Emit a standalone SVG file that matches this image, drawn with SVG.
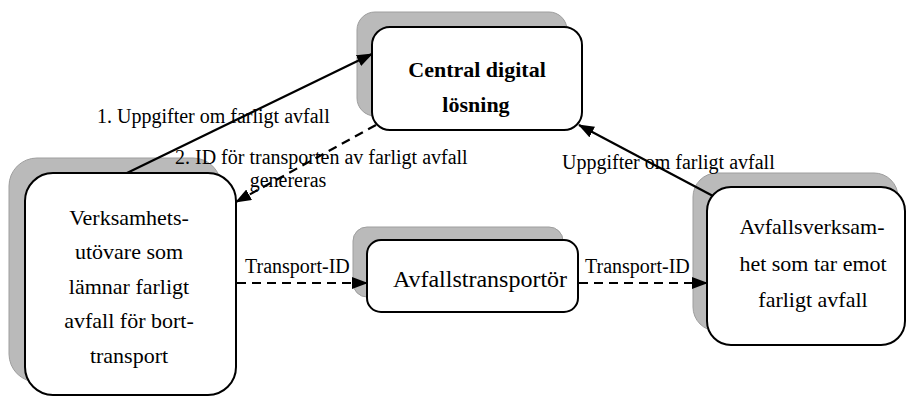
<svg xmlns="http://www.w3.org/2000/svg" width="908" height="401" viewBox="0 0 908 401">
  <defs>
    <marker id="arrow" viewBox="0 0 16 12" refX="15" refY="6" markerWidth="16" markerHeight="12" markerUnits="userSpaceOnUse" orient="auto">
      <path d="M0,0 L16,6 L0,12 Z" fill="#000"/>
    </marker>
  </defs>

  <rect width="908" height="401" fill="#ffffff"/>

  <!-- Central digital solution -->
  <g id="central">
    <rect x="357" y="12" width="210" height="104" rx="18" fill="#bababa" stroke="#9e9e9e"/>
    <rect x="372" y="27" width="210" height="103" rx="18" fill="#fff" stroke="#000" stroke-width="2"/>
    <text x="477" y="77" style="font-family:'Liberation Serif'" font-size="22" font-weight="bold" text-anchor="middle">Central digital</text>
    <text x="476" y="112" style="font-family:'Liberation Serif'" font-size="22" font-weight="bold" text-anchor="middle">l&#246;sning</text>
  </g>

  <!-- Operator handing over waste -->
  <g id="operator">
    <rect x="9" y="158" width="212" height="224" rx="28" fill="#bababa" stroke="#9e9e9e"/>
    <rect x="25" y="173" width="211" height="222" rx="28" fill="#fff" stroke="#000" stroke-width="2"/>
    <text x="129" y="225" style="font-family:'Liberation Serif'" font-size="22" text-anchor="middle">Verksamhets-</text>
    <text x="129" y="259" style="font-family:'Liberation Serif'" font-size="22" text-anchor="middle">ut&#246;vare som</text>
    <text x="129" y="294" style="font-family:'Liberation Serif'" font-size="22" text-anchor="middle">l&#228;mnar farligt</text>
    <text x="129" y="328" style="font-family:'Liberation Serif'" font-size="22" text-anchor="middle">avfall f&#246;r bort-</text>
    <text x="129" y="363" style="font-family:'Liberation Serif'" font-size="22" text-anchor="middle">transport</text>
  </g>

  <!-- Carrier -->
  <g id="carrier">
    <rect x="353" y="227" width="210" height="70" rx="14" fill="#bababa" stroke="#9e9e9e"/>
    <rect x="367" y="240" width="211" height="72" rx="14" fill="#fff" stroke="#000" stroke-width="2"/>
    <text x="480" y="287" style="font-family:'Liberation Serif'" font-size="24" text-anchor="middle">Avfallstransport&#246;r</text>
  </g>

  <!-- Receiving facility -->
  <g id="receiver">
    <rect x="693" y="173" width="205" height="158" rx="24" fill="#bababa" stroke="#9e9e9e"/>
    <rect x="707" y="187" width="198" height="158" rx="24" fill="#fff" stroke="#000" stroke-width="2"/>
    <text x="812" y="234" style="font-family:'Liberation Serif'" font-size="22" text-anchor="middle">Avfallsverksam-</text>
    <text x="813" y="271" style="font-family:'Liberation Serif'" font-size="22" text-anchor="middle">het som tar emot</text>
    <text x="813" y="307" style="font-family:'Liberation Serif'" font-size="22" text-anchor="middle">farligt avfall</text>
  </g>

  <!-- Connectors -->
  <g id="connectors" stroke="#000" stroke-width="2.2" fill="none">
    <line x1="127" y1="173" x2="372" y2="54" marker-end="url(#arrow)"/>
    <line x1="376" y1="125" x2="236" y2="202" stroke-dasharray="9 6" marker-end="url(#arrow)"/>
    <line x1="713" y1="196" x2="579" y2="125" marker-end="url(#arrow)"/>
    <line x1="237" y1="283" x2="367" y2="283" stroke-dasharray="9 6" marker-end="url(#arrow)"/>
    <line x1="579" y1="283" x2="707" y2="283" stroke-dasharray="9 6" marker-end="url(#arrow)"/>
  </g>

  <!-- Connector labels -->
  <g id="labels">
    <text x="97" y="123" style="font-family:'Liberation Serif'" font-size="20">1. Uppgifter om farligt avfall</text>
    <text x="175" y="164" style="font-family:'Liberation Serif'" font-size="20">2. ID f&#246;r transporten av farligt avfall</text>
    <text x="288" y="187" style="font-family:'Liberation Serif'" font-size="20" text-anchor="middle">genereras</text>
    <text x="562" y="169" style="font-family:'Liberation Serif'" font-size="20">Uppgifter om farligt avfall</text>
    <text x="245" y="273" style="font-family:'Liberation Serif'" font-size="20">Transport-ID</text>
    <text x="585" y="273" style="font-family:'Liberation Serif'" font-size="20">Transport-ID</text>
  </g>
</svg>
